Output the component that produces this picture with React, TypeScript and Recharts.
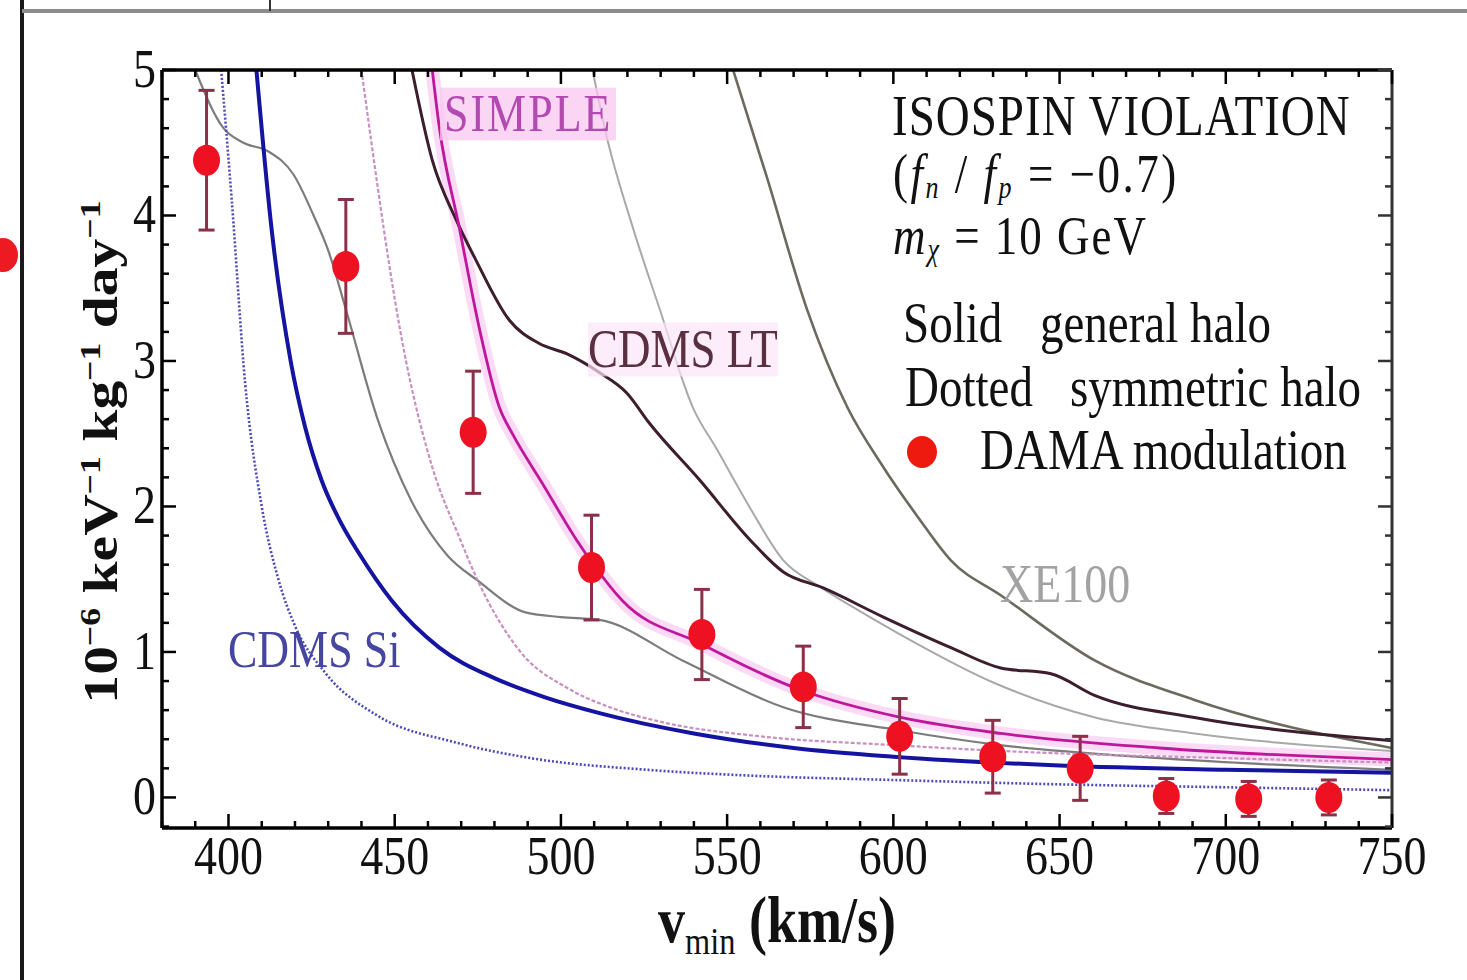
import React from 'react';
import { ComposedChart, Line, Scatter, XAxis, YAxis, ErrorBar } from 'recharts';

// ---------- DATA (v_min in km/s, rate in 10^-6 keV^-1 kg^-1 day^-1) ----------
const damaV = [393.4, 435.3, 473.6, 509.2, 542.4, 572.9, 601.9, 629.9, 656.2, 682.1, 706.9, 731.0];
const damaY = [4.38, 3.65, 2.51, 1.58, 1.12, 0.76, 0.42, 0.28, 0.2, 0.01, -0.01, 0.0];
const damaErr = [0.48, 0.46, 0.42, 0.36, 0.31, 0.28, 0.26, 0.25, 0.22, 0.12, 0.12, 0.12];

// CDMS Si, symmetric halo (dotted blue)
const cdmsSiDotV = [397.8, 401, 405, 410, 415, 420, 429, 445, 468, 491, 526, 557, 600, 650, 700, 750];
const cdmsSiDotY = [5.0, 4.1, 2.85, 2.0, 1.5, 1.18, 0.86, 0.56, 0.38, 0.27, 0.19, 0.15, 0.12, 0.09, 0.07, 0.05];

// CDMS Si, general halo (thick blue)
const cdmsSiV = [408.4, 413, 418.7, 423, 428, 434, 439.2, 449.2, 463.4, 480, 495, 511.6, 540, 570, 600, 650, 700, 750];
const cdmsSiY = [5.0, 3.9, 3.0, 2.55, 2.18, 1.88, 1.68, 1.35, 1.03, 0.82, 0.69, 0.58, 0.44, 0.34, 0.28, 0.22, 0.19, 0.17];

// grey curve with shoulders
const greyV = [390, 398.5, 404.5, 412, 419.6, 425.6, 430, 435, 445, 455, 466, 475, 489.6, 500, 511.6, 536.7, 566.9, 602.2, 632, 680, 750];
const greyY = [5.0, 4.6, 4.5, 4.44, 4.28, 4.0, 3.76, 3.38, 2.59, 2.04, 1.66, 1.49, 1.27, 1.24, 1.22, 0.94, 0.62, 0.46, 0.36, 0.27, 0.19];

// SIMPLE, symmetric halo (pink dashed)
const simpleDotV = [440, 453.4, 461.3, 469.4, 475.4, 487.5, 502.9, 514.7, 530, 560, 600, 632, 700, 750];
const simpleDotY = [5.0, 3.0, 2.27, 1.79, 1.47, 1.01, 0.74, 0.62, 0.52, 0.42, 0.36, 0.32, 0.27, 0.24];

// SIMPLE, general halo (magenta)
const simpleV = [461.3, 463.4, 469.4, 475.4, 481.5, 485.4, 494.4, 504.7, 509.5, 518.6, 541.8, 572, 602.2, 632.3, 680, 750];
const simpleY = [5.0, 4.61, 3.92, 3.23, 2.68, 2.5, 2.16, 1.77, 1.61, 1.35, 1.06, 0.74, 0.55, 0.44, 0.34, 0.26];

// CDMS LT, general halo (dark)
const cdmsLtV = [455.2, 461.3, 468.5, 474.5, 484.5, 493.5, 501.7, 511.6, 519.8, 526.7, 541.8, 556.9, 566.9, 578.9, 597, 617.3, 632.3, 647.4, 660.7, 690.6, 750];
const cdmsLtY = [5.0, 4.38, 3.97, 3.69, 3.28, 3.12, 3.05, 2.92, 2.78, 2.57, 2.18, 1.77, 1.55, 1.44, 1.24, 1.03, 0.89, 0.85, 0.7, 0.55, 0.39];

// light grey curve
const lightV = [509.5, 513.8, 521.6, 529.8, 539.7, 547, 556.9, 566.9, 577, 587, 601.3, 631.1, 660.7, 690.6, 750];
const lightY = [5.0, 4.54, 3.92, 3.35, 2.68, 2.39, 1.99, 1.63, 1.46, 1.32, 1.13, 0.78, 0.55, 0.44, 0.32];

// XENON100, general halo
const xeV = [551.8, 562, 574.1, 586.2, 597, 607.3, 617.3, 632.3, 660.7, 690.6, 750];
const xeY = [5.0, 4.26, 3.35, 2.68, 2.27, 1.93, 1.63, 1.39, 0.94, 0.67, 0.34];

const xTicks = Array.from({ length: 38 }, (_, i) => 380 + i * 10);
const yTicks = Array.from({ length: 27 }, (_, i) => Math.round((-0.2 + i * 0.2) * 10) / 10);

const zip = (vs: number[], ys: number[]) => vs.map((v, i) => ({ v, y: ys[i] }));
const dama = damaV.map((v, i) => ({ v, y: damaY[i], err: damaErr[i] }));

const SERIF = '"Liberation Serif", "Times New Roman", serif';
const isMajorX = (v: number) => v % 50 === 0;
const isMajorY = (v: number) => Math.abs(v - Math.round(v)) < 1e-6;

function BottomTick(props: any) {
  const { x, y, payload } = props;
  const v = payload.value;
  const major = isMajorX(v);
  return (
    <g>
      <line x1={x} y1={y} x2={x} y2={y - (major ? 14 : 7)} stroke="#000" strokeWidth={2.5} />
      {major && v !== 380 ? (
        <text transform={`translate(${x},${y + 46}) scale(1,1.2)`} textAnchor="middle" fontFamily={SERIF} fontSize={46} fill="#111">
          {v}
        </text>
      ) : null}
    </g>
  );
}
function TopTick(props: any) {
  const { x, y, payload } = props;
  const major = isMajorX(payload.value);
  return <line x1={x} y1={y} x2={x} y2={y + (major ? 14 : 7)} stroke="#000" strokeWidth={2.5} />;
}
function LeftTick(props: any) {
  const { x, y, payload } = props;
  const v = payload.value;
  const major = isMajorY(v);
  return (
    <g>
      <line x1={x} y1={y} x2={x + (major ? 14 : 7)} y2={y} stroke="#000" strokeWidth={2.5} />
      {major ? (
        <text transform={`translate(${x - 6},${y + 17}) scale(1,1.2)`} textAnchor="end" fontFamily={SERIF} fontSize={46} fill="#111">
          {Math.round(v)}
        </text>
      ) : null}
    </g>
  );
}
function RightTick(props: any) {
  const { x, y, payload } = props;
  const major = isMajorY(payload.value);
  return <line x1={x} y1={y} x2={x - (major ? 14 : 7)} y2={y} stroke="#333" strokeWidth={2.5} />;
}

function T(props: { x: number; base: number; size: number; color?: string; bold?: boolean; bg?: string; ls?: number; children: any }) {
  const { x, base, size, color = '#111', bold, bg, ls = 0, children } = props;
  const asc = 0.8375 * size;
  return (
    <div
      style={{
        position: 'absolute',
        left: x,
        top: base - asc,
        fontFamily: SERIF,
        fontSize: size,
        lineHeight: `${size}px`,
        whiteSpace: 'nowrap',
        color,
        letterSpacing: ls,
        fontWeight: bold ? 'bold' : 'normal',
        background: bg,
        transform: 'scaleY(1.2)',
        transformOrigin: `0 ${asc}px`,
      }}
    >
      {children}
    </div>
  );
}

const sub = (s: string, italic = true) => (
  <span style={{ fontSize: '0.58em', position: 'relative', top: '0.18em', fontStyle: italic ? 'italic' : 'normal', lineHeight: 0 }}>{s}</span>
);

const lineProps = { dataKey: 'y', type: 'monotone' as const, dot: false, activeDot: false, isAnimationActive: false };

export default function App() {
  return (
    <div style={{ position: 'absolute', left: 0, top: 0, width: 1467, height: 980, background: '#fff', overflow: 'hidden' }}>
      {/* page frame remnants */}
      <div style={{ position: 'absolute', left: 20, top: 0, width: 4, height: 980, background: '#1a1a1a' }} />
      <div style={{ position: 'absolute', left: 22, top: 9, width: 1445, height: 4, background: '#8c8c8c' }} />
      <div style={{ position: 'absolute', left: 269, top: 0, width: 2, height: 11, background: '#333' }} />
      <div style={{ position: 'absolute', left: -12, top: 238, width: 30, height: 34, borderRadius: '50%', background: '#ee1a22' }} />

      <ComposedChart width={1467} height={980} margin={{ top: 65, right: 70, bottom: 92, left: 100 }}>
        <XAxis
          type="number"
          dataKey="v"
          domain={[380, 750]}
          allowDataOverflow
          ticks={xTicks}
          interval={0}
          tickSize={0}
          tickMargin={0}
          height={60}
          axisLine={{ stroke: '#000', strokeWidth: 3.5 }}
          tick={BottomTick}
        />
        <XAxis
          xAxisId="top"
          orientation="top"
          type="number"
          dataKey="v"
          domain={[380, 750]}
          allowDataOverflow
          ticks={xTicks}
          interval={0}
          tickSize={0}
          tickMargin={0}
          height={5}
          axisLine={{ stroke: '#000', strokeWidth: 3.5 }}
          tick={TopTick}
        />
        <YAxis
          type="number"
          dataKey="y"
          domain={[-0.21, 5]}
          allowDataOverflow
          ticks={yTicks}
          interval={0}
          tickSize={0}
          tickMargin={0}
          width={62}
          axisLine={{ stroke: '#000', strokeWidth: 3.5 }}
          tick={LeftTick}
        />
        <YAxis
          yAxisId="right"
          orientation="right"
          type="number"
          dataKey="y"
          domain={[-0.21, 5]}
          allowDataOverflow
          ticks={yTicks}
          interval={0}
          tickSize={0}
          tickMargin={0}
          width={5}
          axisLine={{ stroke: '#333', strokeWidth: 3 }}
          tick={RightTick}
        />

        {/* pink glow around SIMPLE */}
        <Line {...lineProps} data={zip(simpleV, simpleY)} stroke="#f7c2ee" strokeWidth={14} strokeOpacity={0.6} />

        <Line {...lineProps} data={zip(xeV, xeY)} stroke="#6c6a5e" strokeWidth={2.6} />
        <Line {...lineProps} data={zip(lightV, lightY)} stroke="#a9a9a9" strokeWidth={2} />
        <Line {...lineProps} data={zip(greyV, greyY)} stroke="#7c7c7c" strokeWidth={2.2} />
        <Line {...lineProps} data={zip(simpleDotV, simpleDotY)} stroke="#c890c0" strokeWidth={2.2} strokeDasharray="4 2" />
        <Line {...lineProps} data={zip(cdmsSiDotV, cdmsSiDotY)} stroke="#4a4ab8" strokeWidth={2.6} strokeDasharray="2 2" />
        <Line {...lineProps} data={zip(cdmsSiV, cdmsSiY)} stroke="#1414a0" strokeWidth={4} />
        <Line {...lineProps} data={zip(cdmsLtV, cdmsLtY)} stroke="#3c1e2c" strokeWidth={3} />
        <Line {...lineProps} data={zip(simpleV, simpleY)} stroke="#c0169c" strokeWidth={2.8} />

        <Scatter
          data={dama}
          isAnimationActive={false}
          fill="#ee1122"
          shape={(p: any) => <ellipse cx={p.cx} cy={p.cy} rx={13.5} ry={15.5} fill="#ee1122" />}
        >
          <ErrorBar dataKey="err" direction="y" width={8} stroke="#8a3048" strokeWidth={3} />
        </Scatter>
      </ComposedChart>

      {/* curve labels */}
      <T x={440} base={132} size={44} color="#b24ab2" bg="rgba(248,200,240,0.75)">
        <span style={{ letterSpacing: 2, padding: '0 4px' }}>SIMPLE</span>
      </T>
      <T x={588} base={368} size={45} color="#5a3040" bg="rgba(252,228,248,0.7)">
        CDMS LT
      </T>
      <T x={228} base={668} size={44} color="#4646a0">
        CDMS Si
      </T>
      <T x={1000} base={603} size={46} color="#a2a2a2">
        XE100
      </T>

      {/* annotation block */}
      <T x={892} base={135} size={47}>
        <span style={{ letterSpacing: 1 }}>ISOSPIN VIOLATION</span>
      </T>
      <T x={893} base={193} size={45} ls={2.5}>
        (<i>f</i>
        {sub('n')} / <i>f</i>
        {sub('p')} = −0.7)
      </T>
      <T x={893} base={255} size={45} ls={2}>
        <i>m</i>
        {sub('χ')} = 10 GeV
      </T>
      <T x={903} base={342} size={47}>
        Solid
      </T>
      <T x={1040} base={342} size={47}>
        general halo
      </T>
      <T x={905} base={406} size={47}>
        Dotted
      </T>
      <T x={1070} base={406} size={47}>
        symmetric halo
      </T>
      <div style={{ position: 'absolute', left: 907, top: 436, width: 30, height: 32, borderRadius: '50%', background: '#ee1a10' }} />
      <T x={980} base={469} size={47}>
        DAMA modulation
      </T>

      {/* axis titles */}
      <div
        style={{
          position: 'absolute',
          left: 90 - 320,
          top: 452 - 30,
          width: 640,
          height: 60,
          lineHeight: '60px',
          textAlign: 'center',
          transform: 'scaleY(1.2) rotate(-90deg)',
          fontFamily: SERIF,
          fontSize: 48,
          fontWeight: 'bold',
          color: '#111',
          whiteSpace: 'nowrap',
        }}
      >
        10<sup style={{ fontSize: '0.62em' }}>−6</sup> keV<sup style={{ fontSize: '0.62em' }}>−1</sup> kg
        <sup style={{ fontSize: '0.62em' }}>−1</sup> day<sup style={{ fontSize: '0.62em' }}>−1</sup>
      </div>
      <div
        style={{
          position: 'absolute',
          left: 777 - 300,
          top: 942 - 0.8375 * 54,
          width: 600,
          textAlign: 'center',
          fontFamily: SERIF,
          fontSize: 54,
          lineHeight: '54px',
          fontWeight: 'bold',
          color: '#111',
          whiteSpace: 'nowrap',
          transform: 'scaleY(1.2)',
          transformOrigin: `50% ${0.8375 * 54}px`,
        }}
      >
        v<span style={{ fontSize: '0.6em', position: 'relative', top: '0.3em', fontWeight: 'normal' }}>min</span> (km/s)
      </div>
    </div>
  );
}
